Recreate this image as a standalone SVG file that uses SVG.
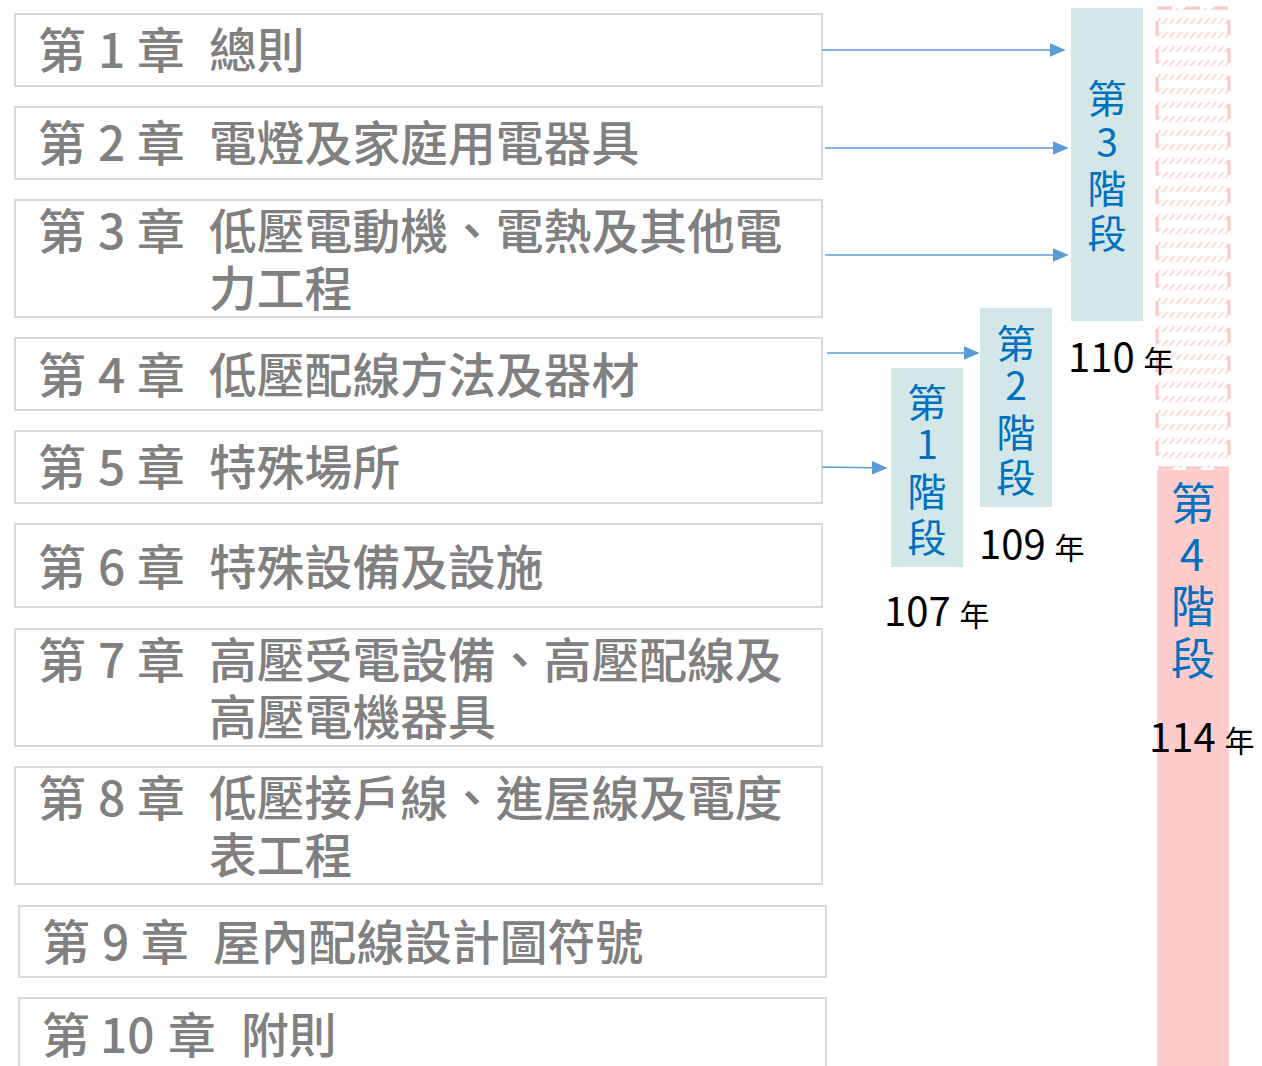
<svg xmlns="http://www.w3.org/2000/svg" width="1262" height="1066" viewBox="0 0 1262 1066">
<style>
.ch{fill:#fff;stroke:#d9d9d9;stroke-width:2}
.t{font-family:"Noto Sans CJK TC","Noto Sans CJK SC",sans-serif;font-size:47.8px;fill:#808080;font-weight:500}
.st{fill:#d3e7e9}
.sv{font-family:"Noto Sans CJK TC","Noto Sans CJK SC",sans-serif;font-size:39px;fill:#0070c0;text-anchor:middle}
.sv4{font-family:"Noto Sans CJK TC","Noto Sans CJK SC",sans-serif;font-size:44px;fill:#0070c0;text-anchor:middle}
.yr{font-family:"Noto Sans CJK TC","Noto Sans CJK SC",sans-serif;font-size:40px;fill:#000}
.ys{font-size:30px}
.ar{stroke:#5b9bd5;stroke-width:1.6;fill:none;marker-end:url(#ah)}
</style>
<defs>
<marker id="ah" viewBox="0 0 10 10" refX="9" refY="5" markerWidth="16" markerHeight="14" markerUnits="userSpaceOnUse" orient="auto" preserveAspectRatio="none">
<path d="M0,0 L10,5 L0,10 Z" fill="#5b9bd5"/>
</marker>
<pattern id="hatch" width="7" height="14" patternUnits="userSpaceOnUse">
<line x1="0.5" y1="10" x2="5.5" y2="4" stroke="#ffd3d3" stroke-width="1.6"/>
</pattern>
</defs>
<rect width="1262" height="1066" fill="#fff"/>

<g id="ch1"><rect class="ch" x="15" y="14" width="807" height="72"/>
<text class="t" y="68"><tspan x="38">第</tspan><tspan x="98">1</tspan><tspan x="137">章</tspan><tspan x="209">總則</tspan></text></g>
<g id="ch2"><rect class="ch" x="15" y="107" width="807" height="72"/>
<text class="t" y="161"><tspan x="38">第</tspan><tspan x="98">2</tspan><tspan x="137">章</tspan><tspan x="209">電燈及家庭用電器具</tspan></text></g>
<g id="ch3"><rect class="ch" x="15" y="200" width="807" height="117"/>
<text class="t" y="249"><tspan x="38">第</tspan><tspan x="98">3</tspan><tspan x="137">章</tspan><tspan x="209">低壓電動機、電熱及其他電</tspan></text>
<text class="t" x="209" y="306">力工程</text></g>
<g id="ch4"><rect class="ch" x="15" y="338" width="807" height="72"/>
<text class="t" y="393"><tspan x="38">第</tspan><tspan x="98">4</tspan><tspan x="137">章</tspan><tspan x="209">低壓配線方法及器材</tspan></text></g>
<g id="ch5"><rect class="ch" x="15" y="431" width="807" height="72"/>
<text class="t" y="485"><tspan x="38">第</tspan><tspan x="98">5</tspan><tspan x="137">章</tspan><tspan x="209">特殊場所</tspan></text></g>
<g id="ch6"><rect class="ch" x="15" y="524" width="807" height="83"/>
<text class="t" y="585"><tspan x="38">第</tspan><tspan x="98">6</tspan><tspan x="137">章</tspan><tspan x="209">特殊設備及設施</tspan></text></g>
<g id="ch7"><rect class="ch" x="15" y="629" width="807" height="117"/>
<text class="t" y="678"><tspan x="38">第</tspan><tspan x="98">7</tspan><tspan x="137">章</tspan><tspan x="209">高壓受電設備、高壓配線及</tspan></text>
<text class="t" x="209" y="735">高壓電機器具</text></g>
<g id="ch8"><rect class="ch" x="15" y="767" width="807" height="117"/>
<text class="t" y="816"><tspan x="38">第</tspan><tspan x="98">8</tspan><tspan x="137">章</tspan><tspan x="209">低壓接戶線、進屋線及電度</tspan></text>
<text class="t" x="209" y="873">表工程</text></g>
<g id="ch9"><rect class="ch" x="19" y="906" width="807" height="71"/>
<text class="t" y="960"><tspan x="42">第</tspan><tspan x="102">9</tspan><tspan x="141">章</tspan><tspan x="213">屋內配線設計圖符號</tspan></text></g>
<g id="ch10"><rect class="ch" x="19" y="998" width="807" height="80"/>
<text class="t" y="1053"><tspan x="42">第</tspan><tspan x="100">10</tspan><tspan x="168">章</tspan><tspan x="241">附則</tspan></text></g>

<g id="stage4">
<rect x="1157" y="8" width="72" height="460" fill="url(#hatch)"/>
<rect x="1157" y="8" width="72" height="460" fill="none" stroke="#ffc8c8" stroke-width="3" stroke-dasharray="15,13"/>
<rect x="1157" y="470" width="72" height="596" fill="#ffcccc"/>
<text class="sv4"><tspan x="1193" y="520">第</tspan><tspan x="1192" y="571">4</tspan><tspan x="1193" y="623">階</tspan><tspan x="1193" y="675">段</tspan></text>
<text class="yr" x="1149" y="752">114 <tspan class="ys">年</tspan></text>
</g>
<g id="stage3">
<rect class="st" x="1071" y="8" width="72" height="313"/>
<text class="sv"><tspan x="1107" y="113">第</tspan><tspan x="1107" y="157">3</tspan><tspan x="1107" y="203">階</tspan><tspan x="1107" y="248">段</tspan></text>
<text class="yr" x="1068" y="372">110 <tspan class="ys">年</tspan></text>
</g>
<g id="stage2">
<rect class="st" x="980" y="308" width="72" height="199"/>
<text class="sv"><tspan x="1016" y="358">第</tspan><tspan x="1016" y="400">2</tspan><tspan x="1016" y="447">階</tspan><tspan x="1016" y="492">段</tspan></text>
<text class="yr" x="979" y="559">109 <tspan class="ys">年</tspan></text>
</g>
<g id="stage1">
<rect class="st" x="891" y="368" width="72" height="199"/>
<text class="sv"><tspan x="927" y="417">第</tspan><tspan x="927" y="459">1</tspan><tspan x="927" y="506">階</tspan><tspan x="927" y="552">段</tspan></text>
<text class="yr" x="884" y="626">107 <tspan class="ys">年</tspan></text>
</g>

<g id="connectors">
<line class="ar" x1="822" y1="50" x2="1064" y2="50"/>
<line class="ar" x1="825" y1="148" x2="1067" y2="148"/>
<line class="ar" x1="825" y1="255" x2="1067" y2="255"/>
<line class="ar" x1="827" y1="353" x2="978" y2="353"/>
<line class="ar" x1="822" y1="467" x2="886" y2="468"/>
</g>
</svg>
